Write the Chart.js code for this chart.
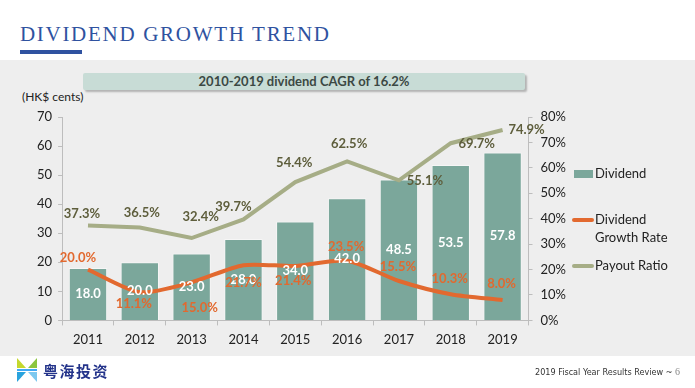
<!DOCTYPE html>
<html>
<head>
<meta charset="utf-8">
<script src="https://cdn.jsdelivr.net/npm/chart.js@4.4.1/dist/chart.umd.min.js"></script>
<style>
  html, body { margin: 0; padding: 0; }
  body { width: 695px; height: 388px; position: relative; background: #fff; overflow: hidden; font-family: Lato, "Open Sans", sans-serif; }
  .band { position: absolute; left: 0; top: 60px; width: 695px; height: 296px; background: #eeeeee; }
  .title { position: absolute; left: 20px; top: 22px; font-family: "Liberation Serif", "DejaVu Serif", serif; font-size: 21px; letter-spacing: 1.7px; color: #2f52a0; white-space: nowrap; }
  .title-bar { position: absolute; left: 20px; top: 50px; width: 62px; height: 4px; background: #2f52a0; }
  .cagr { position: absolute; left: 83px; top: 73px; width: 442px; height: 17px; background: #c8dcd6; box-shadow: 2px 2px 2px rgba(0,0,0,0.25); border-radius: 2px; text-align: center; font-weight: bold; font-size: 13px; line-height: 17px; color: #3b4843; }
  .unit { position: absolute; left: 22px; top: 89px; font-size: 12px; color: #222; }
  #chart { position: absolute; left: 0; top: 0; }
  .legend { position: absolute; left: 572px; top: 164px; font-size: 13px; color: #222; }
  .legend div { position: absolute; white-space: nowrap; line-height: 18px; }
  .sw { position: absolute; }
  .logo { position: absolute; left: 16px; top: 357px; }
  .cn { position: absolute; left: 43px; top: 360px; font-family: "Noto Sans CJK SC", sans-serif; font-weight: bold; font-size: 15px; letter-spacing: 1.5px; color: #23338a; }
  .foot { position: absolute; left: 535px; top: 366px; font-family: "Liberation Sans Narrow", "DejaVu Sans Condensed", sans-serif; font-size: 9px; color: #333; white-space: nowrap; }
  .foot span { font-family: "Liberation Serif", serif; color: #888; font-size: 10px; }
</style>
</head>
<body>
<div class="band"></div>
<div class="title">DIVIDEND GROWTH TREND</div>
<div class="title-bar"></div>
<div class="cagr">2010-2019 dividend CAGR of 16.2%</div>
<div class="unit">(HK$ cents)</div>
<canvas id="chart" width="695" height="388"></canvas>
<div class="legend" id="legend"></div>
<svg class="logo" width="22" height="26" viewBox="0 0 22 26">
  <path d="M1 1 L1 11 L10 11 Z" fill="#c4d82e"/>
  <path d="M21 1 L21 11 L12 11 Z" fill="#8cc63f"/>
  <rect x="1" y="12" width="20" height="2" fill="#3fa9f5"/>
  <path d="M1 15 L1 25 L10 15 Z" fill="#29a3dd"/>
  <path d="M21 15 L21 25 L12 15 Z" fill="#7cc8ef"/>
</svg>
<div class="cn">粤海投资</div>
<div class="foot">2019 Fiscal Year Results Review ~ <span>6</span></div>
<script>
const years = ["2011", "2012", "2013", "2014", "2015", "2016", "2017", "2018", "2019"];
const dividend = [18.0, 20.0, 23.0, 28.0, 34.0, 42.0, 48.5, 53.5, 57.8];
const growthRate = [20.0, 11.1, 15.0, 21.7, 21.4, 23.5, 15.5, 10.3, 8.0];
const payoutRatio = [37.3, 36.5, 32.4, 39.7, 54.4, 62.5, 55.1, 69.7, 74.9];

// label nudges relative to each point (px)
const growthOffsets = [[-10, -12], [-6, 12], [8, 26], [0, 18], [-2, 15], [-1, -14], [-1, -14], [-1, -15], [-1, -16]];
const payoutOffsets = [[-6, -12], [2, -15], [9, -21], [-10, -13], [-1, -19], [2, -18], [26, 1], [26, 1], [24, 0]];

const barColor = "#7ba79b";
const growthColor = "#e2692f";
const payoutColor = "#a6ad86";
const axisColor = "#bdbdbd";

const valueLabels = {
    id: "valueLabels",
    afterDatasetsDraw(chart) {
        const ctx = chart.ctx;
        ctx.save();
        ctx.textAlign = "center";
        ctx.textBaseline = "middle";
        ctx.font = "bold 13px Lato, sans-serif";

        ctx.fillStyle = "#ffffff";
        chart.getDatasetMeta(0).data.forEach((bar, i) => {
            ctx.fillText(dividend[i].toFixed(1), bar.x, (bar.y + bar.base) / 2);
        });

        ctx.fillStyle = growthColor;
        chart.getDatasetMeta(1).data.forEach((pt, i) => {
            ctx.fillText(growthRate[i].toFixed(1) + "%", pt.x + growthOffsets[i][0], pt.y + growthOffsets[i][1]);
        });

        ctx.fillStyle = "#5e5e3c";
        chart.getDatasetMeta(2).data.forEach((pt, i) => {
            ctx.fillText(payoutRatio[i].toFixed(1) + "%", pt.x + payoutOffsets[i][0], pt.y + payoutOffsets[i][1]);
        });
        ctx.restore();
    }
};

const chart = new Chart(document.getElementById("chart"), {
    type: "bar",
    data: {
        labels: years,
        datasets: [
            {
                label: "Dividend",
                data: dividend,
                backgroundColor: barColor,
                borderColor: "rgba(255,255,255,0.45)",
                borderWidth: 1,
                barPercentage: 0.74,
                categoryPercentage: 1,
                yAxisID: "y",
                order: 3
            },
            {
                type: "line",
                label: "Dividend Growth Rate",
                data: growthRate,
                borderColor: growthColor,
                borderWidth: 4,
                pointRadius: 0,
                tension: 0.25,
                yAxisID: "y1",
                order: 2
            },
            {
                type: "line",
                label: "Payout Ratio",
                data: payoutRatio,
                borderColor: payoutColor,
                borderWidth: 4,
                pointRadius: 0,
                tension: 0,
                yAxisID: "y1",
                order: 1
            }
        ]
    },
    options: {
        responsive: false,
        animation: false,
        layout: { padding: { left: 31, right: 121, top: 117, bottom: 33 } },
        plugins: {
            legend: { display: false },
            tooltip: { enabled: false }
        },
        scales: {
            x: {
                grid: { drawOnChartArea: false, tickLength: 5, color: axisColor, offset: true },
                border: { color: axisColor },
                ticks: { color: "#222", font: { family: "Lato", size: 13 }, padding: 7 }
            },
            y: {
                position: "left",
                min: 0,
                max: 70,
                ticks: { stepSize: 10, color: "#222", font: { family: "Lato", size: 13 }, padding: 6 },
                grid: { drawOnChartArea: false, tickLength: 4, color: axisColor },
                border: { color: axisColor }
            },
            y1: {
                position: "right",
                min: 0,
                max: 80,
                ticks: { stepSize: 10, color: "#222", font: { family: "Lato", size: 13 }, padding: 8, callback: v => v + "%" },
                grid: { drawOnChartArea: false, tickLength: 4, color: axisColor },
                border: { color: axisColor }
            }
        }
    },
    plugins: [valueLabels]
});

// HTML legend built from the datasets
const legendEl = document.getElementById("legend");
const legendRows = [
    { ds: 0, top: 0, text: "Dividend", sw: "box" },
    { ds: 1, top: 46, text: "Dividend<br>Growth Rate", sw: "line" },
    { ds: 2, top: 92, text: "Payout Ratio", sw: "line" }
];
legendRows.forEach(r => {
    const ds = chart.data.datasets[r.ds];
    const sw = document.createElement("span");
    sw.className = "sw";
    if (r.sw === "box") {
        sw.style.cssText = `left:2px;top:${r.top + 6}px;width:19px;height:8px;background:${ds.backgroundColor};`;
    } else {
        sw.style.cssText = `left:0px;top:${r.top + 8}px;width:22px;height:4px;border-radius:2px;background:${ds.borderColor};`;
    }
    legendEl.appendChild(sw);
    const t = document.createElement("div");
    t.style.left = "23px";
    t.style.top = r.top + "px";
    t.innerHTML = r.text;
    legendEl.appendChild(t);
});
</script>
</body>
</html>
